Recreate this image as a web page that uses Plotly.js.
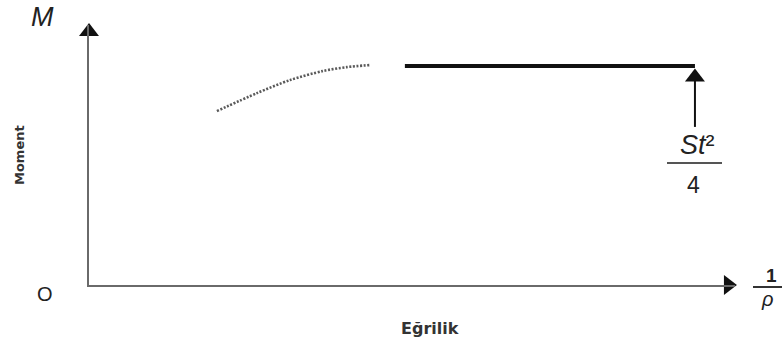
<!DOCTYPE html>
<html>
<head>
<meta charset="utf-8">
<script src="https://cdn.plot.ly/plotly-3.0.1.min.js"></script>
<style>
  html, body { margin: 0; padding: 0; background: #fff; }
  #chart { width: 782px; height: 343px; }
</style>
</head>
<body>
<div id="chart"></div>
<script>
// Elastic (rising) part of the moment–curvature relation, dotted
const elasticCurvature = [1.98, 2.6, 3.11, 3.62, 3.99, 4.35];
const elasticMoment    = [6.69, 7.38, 7.88, 8.23, 8.38, 8.46];
// Fully plastic plateau, thick solid line
const plasticCurvature = [4.89, 9.38];
const plasticMoment    = [8.42, 8.42];
// Arrow pointing to the plastic moment St^2/4
const plasticArrowX    = 9.38;
const plasticArrowTip  = 8.33;
const plasticArrowTail = 6.08;
// Axis ranges (arbitrary units) and axis arrow tips
const xRange = [0, 10];
const yRange = [0, 10];
const xAxisTip = 10.03;
const yAxisTip = 10.08;
// Texts
const xLabel = 'Eğrilik';
const yLabel = 'Moment';
const yAxisSymbol = '<i>M</i>';
const originLabel = 'O';
const plasticNumerator = '<i>St</i>²';
const plasticDenominator = '4';
const xNumerator = '<b>1</b>';
const xDenominator = '<i>ρ</i>';

// plot geometry (px) used to convert arrowhead half-size to data units
const M = { l: 89, r: 47, t: 25, b: 58 };
const W = 782, H = 343;
const pxX = (W - M.l - M.r) / (xRange[1] - xRange[0]);
const pxY = (H - M.t - M.b) / (yRange[1] - yRange[0]);
const headSize = 17.3;             // triangle marker size
const headR = headSize / 2;        // tip lies r px from marker centre

const traces = [
  {
    x: elasticCurvature, y: elasticMoment, type: 'scatter', mode: 'lines',
    line: { color: '#5a5a5a', width: 2.6, dash: '2px,1.6px', shape: 'spline', smoothing: 0.8 },
    hoverinfo: 'skip', showlegend: false
  },
  {
    x: plasticCurvature, y: plasticMoment, type: 'scatter', mode: 'lines',
    line: { color: '#111111', width: 4 },
    hoverinfo: 'skip', showlegend: false
  },
  // arrow shaft to the plateau
  {
    x: [plasticArrowX, plasticArrowX], y: [plasticArrowTail, plasticArrowTip - headR / pxY],
    type: 'scatter', mode: 'lines', line: { color: '#111', width: 2 },
    hoverinfo: 'skip', showlegend: false
  },
  // arrowheads (plateau arrow, y-axis, x-axis)
  {
    x: [plasticArrowX, xRange[0]],
    y: [plasticArrowTip - headR / pxY, yAxisTip - headR / pxY],
    type: 'scatter', mode: 'markers', cliponaxis: false,
    marker: { symbol: 'triangle-up', size: headSize, color: '#111', line: { width: 0 } },
    hoverinfo: 'skip', showlegend: false
  },
  {
    x: [xAxisTip - headR / pxX], y: [yRange[0]],
    type: 'scatter', mode: 'markers', cliponaxis: false,
    marker: { symbol: 'triangle-right', size: headSize, color: '#111', line: { width: 0 } },
    hoverinfo: 'skip', showlegend: false
  }
];

const layout = {
  width: W, height: H,
  margin: M,
  paper_bgcolor: '#ffffff', plot_bgcolor: '#ffffff',
  font: { family: 'Liberation Sans, Arial, sans-serif', color: '#222' },
  showlegend: false,
  xaxis: {
    range: xRange, showline: true, linecolor: '#6a6a6a', linewidth: 2,
    showgrid: false, zeroline: false, showticklabels: false, ticks: '', fixedrange: true
  },
  yaxis: {
    range: yRange, showline: true, linecolor: '#6a6a6a', linewidth: 2,
    showgrid: false, zeroline: false, showticklabels: false, ticks: '', fixedrange: true
  },
  shapes: [
    { type: 'line', xref: 'paper', yref: 'paper', x0: (667-89)/646, x1: (722-89)/646,
      y0: (285-163)/260, y1: (285-163)/260, line: { color: '#555', width: 2 } },
    { type: 'line', xref: 'paper', yref: 'paper', x0: (753-89)/646, x1: (782-89)/646,
      y0: (285-287)/260, y1: (285-287)/260, line: { color: '#333', width: 2 } }
  ],
  annotations: [
    { xref: 'paper', yref: 'paper', x: (42-89)/646, y: (285-17)/260, text: yAxisSymbol, showarrow: false,
      font: { size: 27, color: '#222' }, xanchor: 'center', yanchor: 'middle' },
    { xref: 'paper', yref: 'paper', x: (45-89)/646, y: (285-294)/260, text: originLabel, showarrow: false,
      font: { size: 20, color: '#222' }, xanchor: 'center', yanchor: 'middle' },
    { xref: 'paper', yref: 'paper', x: (19-89)/646, y: (285-155)/260, text: '<b>' + yLabel + '</b>', showarrow: false,
      textangle: -90, font: { family: 'DejaVu Sans', size: 13, color: '#333' },
      xanchor: 'center', yanchor: 'middle' },
    { xref: 'paper', yref: 'paper', x: (430-89)/646, y: (285-328)/260, text: '<b>' + xLabel + '</b>', showarrow: false,
      font: { family: 'DejaVu Sans', size: 16, color: '#333' }, xanchor: 'center', yanchor: 'middle' },
    { xref: 'paper', yref: 'paper', x: (697-89)/646, y: (285-145)/260, text: plasticNumerator, showarrow: false,
      font: { size: 27, color: '#222' }, xanchor: 'center', yanchor: 'middle' },
    { xref: 'paper', yref: 'paper', x: (693-89)/646, y: (285-185)/260, text: plasticDenominator, showarrow: false,
      font: { size: 23, color: '#222' }, xanchor: 'center', yanchor: 'middle' },
    { xref: 'paper', yref: 'paper', x: (771-89)/646, y: (285-275)/260, text: xNumerator, showarrow: false,
      font: { size: 19, color: '#222' }, xanchor: 'center', yanchor: 'middle' },
    { xref: 'paper', yref: 'paper', x: (767-89)/646, y: (285-299)/260, text: xDenominator, showarrow: false,
      font: { size: 20, color: '#222' }, xanchor: 'center', yanchor: 'middle' }
  ]
};

Plotly.newPlot('chart', traces, layout, { staticPlot: true, displayModeBar: false });
</script>
</body>
</html>
